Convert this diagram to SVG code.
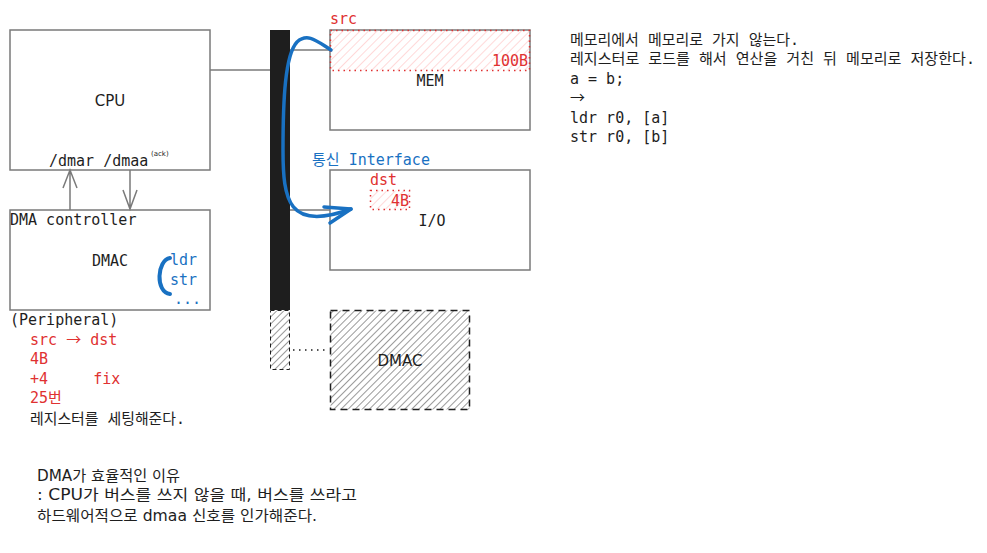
<svg xmlns="http://www.w3.org/2000/svg" width="987" height="553" viewBox="0 0 987 553">
<style>
.box{fill:#fff;stroke:#7a7a7a;stroke-width:1.5}
.ln{stroke:#7a7a7a;stroke-width:1.5;fill:none}
.t{font-family:"DejaVu Sans Mono","Noto Sans CJK KR",monospace;font-size:15px;fill:#1e1e1e;white-space:pre}
.s{font-family:"DejaVu Sans","Noto Sans CJK KR",sans-serif;font-size:15px;fill:#1e1e1e}
.ar{font-family:"Noto Sans CJK KR",sans-serif}
.red{fill:#e03131}
.blue{fill:#1971c2}
.mid{text-anchor:middle}
.end{text-anchor:end}
</style>
<defs>
<pattern id="hatch" width="5" height="5" patternUnits="userSpaceOnUse" patternTransform="rotate(45)">
<line x1="0" y1="0" x2="0" y2="5" stroke="#1e1e1e" stroke-width="0.9"/>
</pattern>
<pattern id="rhatch" width="6" height="6" patternUnits="userSpaceOnUse" patternTransform="rotate(45)">
<line x1="0" y1="0" x2="0" y2="6" stroke="#ffb3b3" stroke-width="1"/>
</pattern>
</defs>

<g id="bus">
<rect x="270" y="30" width="20" height="280" fill="#1e1e1e"/>
<rect x="270.5" y="310.5" width="19" height="59" fill="url(#hatch)" stroke="#1e1e1e" stroke-width="1" stroke-dasharray="4,3"/>
</g>

<g id="cpu">
<rect class="box" x="10" y="30" width="200" height="140"/>
<text class="s mid" x="110" y="106">CPU</text>
<text class="t" x="49" y="166">/dmar /dmaa</text>
<text class="s" x="151" y="156" style="font-size:7px">(ack)</text>
</g>

<g id="dmac">
<rect class="box" x="10" y="210" width="200" height="100"/>
<text class="t" x="10" y="225">DMA controller</text>
<text class="t mid" x="110" y="266">DMAC</text>
<path d="M170,258 C157,260 155,292 170,294" fill="none" stroke="#1971c2" stroke-width="4" stroke-linecap="round"/>
<text class="t blue" x="170" y="265">ldr</text>
<text class="t blue" x="170" y="285">str</text>
<text class="t blue" x="174" y="304">...</text>
</g>

<g id="mem">
<rect class="box" x="330" y="30" width="200" height="100"/>
<rect x="330.5" y="30.5" width="199" height="40" fill="url(#rhatch)" stroke="#e03131" stroke-width="1.5" stroke-dasharray="1.5,4"/>
<text class="t red" x="330" y="24">src</text>
<text class="t red end" x="528" y="66">100B</text>
<text class="t mid" x="430" y="86">MEM</text>
</g>

<g id="io">
<rect class="box" x="330" y="170" width="200" height="100"/>
<text class="t blue" x="312" y="165">통신 Interface</text>
<text class="t red" x="370" y="185">dst</text>
<rect x="370.5" y="190.5" width="39" height="19" fill="url(#rhatch)" stroke="#e03131" stroke-width="1.5" stroke-dasharray="1.5,4"/>
<text class="t red end" x="409" y="206">4B</text>
<text class="t mid" x="432" y="226">I/O</text>
</g>

<g id="dmac2">
<rect x="330.5" y="310.5" width="139" height="99" fill="url(#hatch)" stroke="#1e1e1e" stroke-width="1.5" stroke-dasharray="7,5"/>
<text class="s mid" x="400" y="366">DMAC</text>
</g>

<g id="notes-left">
<text class="t" x="10" y="325">(Peripheral)</text>
<text class="t red" x="30" y="345">src <tspan class="ar">→</tspan> dst</text>
<text class="t red" x="30" y="364">4B</text>
<text class="t red" x="30" y="384">+4     fix</text>
<text class="t red" x="30" y="403">25번</text>
<text class="t" x="30" y="424" textLength="155" lengthAdjust="spacingAndGlyphs">레지스터를 세팅해준다.</text>
</g>

<g id="notes-right">
<text class="t" x="570" y="45" textLength="229" lengthAdjust="spacingAndGlyphs">메모리에서 메모리로 가지 않는다.</text>
<text class="t" x="570" y="64" textLength="405" lengthAdjust="spacingAndGlyphs">레지스터로 로드를 해서 연산을 거친 뒤 메모리로 저장한다.</text>
<text class="t" x="570" y="84">a = b;</text>
<text class="t ar" x="570" y="103">→</text>
<text class="t" x="570" y="123">ldr r0, [a]</text>
<text class="t" x="570" y="142">str r0, [b]</text>
</g>

<g id="notes-bottom">
<text class="s" x="37" y="481" textLength="143" lengthAdjust="spacingAndGlyphs">DMA가 효율적인 이유</text>
<text class="s" x="37" y="500" textLength="320" lengthAdjust="spacingAndGlyphs">: CPU가 버스를 쓰지 않을 때, 버스를 쓰라고</text>
<text class="s" x="37" y="521" textLength="280" lengthAdjust="spacingAndGlyphs">하드웨어적으로 dmaa 신호를 인가해준다.</text>
</g>

<g id="connectors">
<line class="ln" x1="210" y1="70" x2="270" y2="70"/>
<line class="ln" x1="290" y1="50" x2="330" y2="50"/>
<line class="ln" x1="290" y1="210" x2="330" y2="210"/>
<path class="ln" d="M70,210 L70,170 M63,188 L70,170 L77,188"/>
<path class="ln" d="M130,170 L130,209 M123,190 L130,209 L137,190"/>
<line x1="293" y1="350" x2="328" y2="350" stroke="#1e1e1e" stroke-width="1.5" stroke-dasharray="1.5,4.5"/>
<path d="M331,50 C318,42 308,32 297,42 C285,55 283,100 283,150 C283,200 288,232 351,209" fill="none" stroke="#1971c2" stroke-width="3.5" stroke-linecap="round"/>
<path d="M324,207 L351,209 L330,223" fill="none" stroke="#1971c2" stroke-width="3.5" stroke-linecap="round" stroke-linejoin="round"/>
</g>
</svg>
